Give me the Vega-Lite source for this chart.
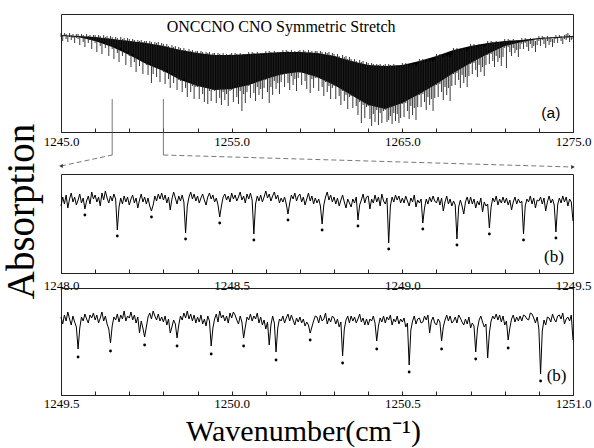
{
"$schema":"https://vega.github.io/schema/vega-lite/v6.json",
"padding":{"left":1,"top":13,"right":2,"bottom":0},
"background":"white",
"config":{"view":{"stroke":"#222","strokeWidth":1},
"axis":{"grid":false,"labelFont":"Liberation Serif","labelFontSize":13,"labelColor":"black","tickColor":"#222","domainColor":"#222","titleFont":"Liberation Serif","titleColor":"black","titleFontWeight":"normal","labelFlush":false,"labelOverlap":false}},
"datasets":{
"topBand":[{"x":1245,"t":97,"b":96},{"x":1246,"t":96,"b":95},{"x":1247,"t":95,"b":91},{"x":1248,"t":93,"b":85},{"x":1249,"t":91,"b":77},{"x":1250,"t":89,"b":68},{"x":1251,"t":86,"b":61},{"x":1252,"t":82,"b":52},{"x":1253,"t":79,"b":46},{"x":1254,"t":77,"b":42},{"x":1255,"t":77,"b":43},{"x":1256,"t":78,"b":47},{"x":1257,"t":79,"b":53},{"x":1258,"t":80,"b":58},{"x":1259,"t":80,"b":60},{"x":1260,"t":79,"b":55},{"x":1261,"t":76,"b":47},{"x":1262,"t":71,"b":37},{"x":1263,"t":67,"b":27},{"x":1264,"t":66,"b":23},{"x":1265,"t":67,"b":29},{"x":1266,"t":71,"b":38},{"x":1267,"t":76,"b":48},{"x":1268,"t":82,"b":59},{"x":1269,"t":86,"b":69},{"x":1270,"t":89,"b":78},{"x":1271,"t":91,"b":86},{"x":1272,"t":92,"b":90},{"x":1273,"t":94,"b":93},{"x":1274,"t":95,"b":94},{"x":1275,"t":96,"b":95}],
"topRules":[
{"x":1245.0,"h":99,"l":95},{"x":1245.1,"h":97,"l":91},{"x":1245.2,"h":99,"l":96},{"x":1245.3,"h":98,"l":93},{"x":1245.4,"h":96,"l":90},{"x":1245.5,"h":99,"l":95},{"x":1245.6,"h":97,"l":92},{"x":1245.7,"h":98,"l":94},{"x":1245.8,"h":96,"l":89},{"x":1245.9,"h":98,"l":94},
{"x":1246.0,"h":98,"l":93},{"x":1246.1,"h":96,"l":87},{"x":1246.2,"h":98,"l":94},{"x":1246.3,"h":97,"l":90},{"x":1246.4,"h":95,"l":85},{"x":1246.5,"h":98,"l":93},{"x":1246.6,"h":96,"l":89},{"x":1246.7,"h":97,"l":92},{"x":1246.8,"h":95,"l":83},{"x":1246.9,"h":97,"l":91},
{"x":1247.0,"h":97,"l":89},{"x":1247.1,"h":95,"l":80},{"x":1247.2,"h":97,"l":91},{"x":1247.3,"h":96,"l":86},{"x":1247.4,"h":94,"l":78},{"x":1247.5,"h":97,"l":90},{"x":1247.6,"h":95,"l":84},{"x":1247.7,"h":96,"l":88},{"x":1247.8,"h":94,"l":76},{"x":1247.9,"h":96,"l":87},
{"x":1248.0,"h":95,"l":83},{"x":1248.1,"h":93,"l":73},{"x":1248.2,"h":95,"l":86},{"x":1248.3,"h":94,"l":79},{"x":1248.4,"h":92,"l":70},{"x":1248.5,"h":95,"l":84},{"x":1248.6,"h":93,"l":76},{"x":1248.7,"h":94,"l":81},{"x":1248.8,"h":92,"l":67},{"x":1248.9,"h":94,"l":80},
{"x":1249.0,"h":93,"l":76},{"x":1249.1,"h":91,"l":65},{"x":1249.2,"h":93,"l":78},{"x":1249.3,"h":92,"l":70},{"x":1249.4,"h":90,"l":60},{"x":1249.5,"h":92,"l":75},{"x":1249.6,"h":91,"l":66},{"x":1249.7,"h":92,"l":72},{"x":1249.8,"h":90,"l":58},{"x":1249.9,"h":91,"l":70},
{"x":1250.0,"h":91,"l":67},{"x":1250.1,"h":89,"l":57},{"x":1250.2,"h":91,"l":69},{"x":1250.3,"h":90,"l":49},{"x":1250.4,"h":87,"l":58},{"x":1250.5,"h":90,"l":66},{"x":1250.6,"h":89,"l":55},{"x":1250.7,"h":90,"l":63},{"x":1250.8,"h":87,"l":50},{"x":1250.9,"h":89,"l":62},
{"x":1251.0,"h":88,"l":60},{"x":1251.1,"h":86,"l":48},{"x":1251.2,"h":88,"l":62},{"x":1251.3,"h":86,"l":53},{"x":1251.4,"h":84,"l":44},{"x":1251.5,"h":87,"l":59},{"x":1251.6,"h":85,"l":49},{"x":1251.7,"h":86,"l":56},{"x":1251.8,"h":83,"l":42},{"x":1251.9,"h":85,"l":52},
{"x":1252.0,"h":84,"l":51},{"x":1252.1,"h":82,"l":40},{"x":1252.2,"h":84,"l":53},{"x":1252.3,"h":82,"l":44},{"x":1252.4,"h":80,"l":35},{"x":1252.5,"h":83,"l":50},{"x":1252.6,"h":81,"l":40},{"x":1252.7,"h":82,"l":46},{"x":1252.8,"h":79,"l":33},{"x":1252.9,"h":81,"l":45},
{"x":1253.0,"h":81,"l":45},{"x":1253.1,"h":79,"l":33},{"x":1253.2,"h":81,"l":46},{"x":1253.3,"h":80,"l":38},{"x":1253.4,"h":78,"l":30},{"x":1253.5,"h":80,"l":44},{"x":1253.6,"h":79,"l":28},{"x":1253.7,"h":80,"l":41},{"x":1253.8,"h":77,"l":31},{"x":1253.9,"h":79,"l":42},
{"x":1254.0,"h":79,"l":41},{"x":1254.1,"h":77,"l":29},{"x":1254.2,"h":79,"l":43},{"x":1254.3,"h":78,"l":34},{"x":1254.4,"h":76,"l":27},{"x":1254.5,"h":79,"l":40},{"x":1254.6,"h":77,"l":32},{"x":1254.7,"h":78,"l":38},{"x":1254.8,"h":76,"l":26},{"x":1254.9,"h":78,"l":41},
{"x":1255.0,"h":79,"l":42},{"x":1255.1,"h":77,"l":30},{"x":1255.2,"h":79,"l":44},{"x":1255.3,"h":78,"l":35},{"x":1255.4,"h":76,"l":28},{"x":1255.5,"h":79,"l":41},{"x":1255.6,"h":77,"l":21},{"x":1255.7,"h":78,"l":38},{"x":1255.8,"h":76,"l":29},{"x":1255.9,"h":78,"l":40},
{"x":1256.0,"h":80,"l":46},{"x":1256.1,"h":78,"l":34},{"x":1256.2,"h":80,"l":48},{"x":1256.3,"h":79,"l":39},{"x":1256.4,"h":77,"l":31},{"x":1256.5,"h":80,"l":45},{"x":1256.6,"h":78,"l":37},{"x":1256.7,"h":79,"l":43},{"x":1256.8,"h":77,"l":33},{"x":1256.9,"h":79,"l":44},
{"x":1257.0,"h":81,"l":52},{"x":1257.1,"h":79,"l":40},{"x":1257.2,"h":81,"l":29},{"x":1257.3,"h":80,"l":45},{"x":1257.4,"h":78,"l":37},{"x":1257.5,"h":81,"l":51},{"x":1257.6,"h":79,"l":43},{"x":1257.7,"h":80,"l":49},{"x":1257.8,"h":78,"l":38},{"x":1257.9,"h":80,"l":50},
{"x":1258.0,"h":82,"l":57},{"x":1258.1,"h":80,"l":45},{"x":1258.2,"h":82,"l":58},{"x":1258.3,"h":81,"l":49},{"x":1258.4,"h":79,"l":42},{"x":1258.5,"h":82,"l":56},{"x":1258.6,"h":80,"l":47},{"x":1258.7,"h":81,"l":53},{"x":1258.8,"h":79,"l":41},{"x":1258.9,"h":81,"l":54},
{"x":1259.0,"h":82,"l":59},{"x":1259.1,"h":80,"l":47},{"x":1259.2,"h":82,"l":60},{"x":1259.3,"h":81,"l":51},{"x":1259.4,"h":79,"l":43},{"x":1259.5,"h":82,"l":57},{"x":1259.6,"h":80,"l":39},{"x":1259.7,"h":81,"l":53},{"x":1259.8,"h":79,"l":44},{"x":1259.9,"h":81,"l":54},
{"x":1260.0,"h":81,"l":54},{"x":1260.1,"h":79,"l":41},{"x":1260.2,"h":81,"l":53},{"x":1260.3,"h":80,"l":45},{"x":1260.4,"h":78,"l":36},{"x":1260.5,"h":80,"l":50},{"x":1260.6,"h":79,"l":40},{"x":1260.7,"h":80,"l":46},{"x":1260.8,"h":77,"l":33},{"x":1260.9,"h":79,"l":44},
{"x":1261.0,"h":78,"l":46},{"x":1261.1,"h":76,"l":33},{"x":1261.2,"h":78,"l":45},{"x":1261.3,"h":76,"l":36},{"x":1261.4,"h":74,"l":27},{"x":1261.5,"h":77,"l":41},{"x":1261.6,"h":75,"l":31},{"x":1261.7,"h":76,"l":37},{"x":1261.8,"h":73,"l":23},{"x":1261.9,"h":75,"l":35},
{"x":1262.0,"h":73,"l":36},{"x":1262.1,"h":71,"l":24},{"x":1262.2,"h":73,"l":35},{"x":1262.3,"h":71,"l":26},{"x":1262.4,"h":69,"l":17},{"x":1262.5,"h":72,"l":30},{"x":1262.6,"h":70,"l":9},{"x":1262.7,"h":71,"l":27},{"x":1262.8,"h":68,"l":14},{"x":1262.9,"h":70,"l":25},
{"x":1263.0,"h":69,"l":26},{"x":1263.1,"h":67,"l":13},{"x":1263.2,"h":69,"l":6},{"x":1263.3,"h":68,"l":18},{"x":1263.4,"h":66,"l":10},{"x":1263.5,"h":68,"l":22},{"x":1263.6,"h":67,"l":7},{"x":1263.7,"h":68,"l":19},{"x":1263.8,"h":66,"l":9},{"x":1263.9,"h":67,"l":21},
{"x":1264.0,"h":68,"l":22},{"x":1264.1,"h":66,"l":10},{"x":1264.2,"h":68,"l":12},{"x":1264.3,"h":67,"l":16},{"x":1264.4,"h":65,"l":8},{"x":1264.5,"h":68,"l":19},{"x":1264.6,"h":66,"l":11},{"x":1264.7,"h":67,"l":18},{"x":1264.8,"h":65,"l":9},{"x":1264.9,"h":67,"l":14},
{"x":1265.0,"h":69,"l":28},{"x":1265.1,"h":67,"l":15},{"x":1265.2,"h":69,"l":29},{"x":1265.3,"h":68,"l":21},{"x":1265.4,"h":66,"l":13},{"x":1265.5,"h":69,"l":26},{"x":1265.6,"h":67,"l":17},{"x":1265.7,"h":68,"l":24},{"x":1265.8,"h":66,"l":12},{"x":1265.9,"h":68,"l":25},
{"x":1266.0,"h":73,"l":37},{"x":1266.1,"h":71,"l":25},{"x":1266.2,"h":73,"l":38},{"x":1266.3,"h":72,"l":30},{"x":1266.4,"h":70,"l":22},{"x":1266.5,"h":73,"l":35},{"x":1266.6,"h":71,"l":27},{"x":1266.7,"h":72,"l":33},{"x":1266.8,"h":70,"l":21},{"x":1266.9,"h":72,"l":34},
{"x":1267.0,"h":78,"l":47},{"x":1267.1,"h":76,"l":35},{"x":1267.2,"h":78,"l":48},{"x":1267.3,"h":77,"l":40},{"x":1267.4,"h":75,"l":32},{"x":1267.5,"h":78,"l":45},{"x":1267.6,"h":76,"l":37},{"x":1267.7,"h":77,"l":44},{"x":1267.8,"h":75,"l":31},{"x":1267.9,"h":77,"l":46},
{"x":1268.0,"h":84,"l":58},{"x":1268.1,"h":82,"l":47},{"x":1268.2,"h":84,"l":59},{"x":1268.3,"h":83,"l":52},{"x":1268.4,"h":81,"l":44},{"x":1268.5,"h":84,"l":57},{"x":1268.6,"h":82,"l":49},{"x":1268.7,"h":83,"l":55},{"x":1268.8,"h":81,"l":45},{"x":1268.9,"h":83,"l":56},
{"x":1269.0,"h":88,"l":68},{"x":1269.1,"h":86,"l":58},{"x":1269.2,"h":88,"l":69},{"x":1269.3,"h":87,"l":62},{"x":1269.4,"h":85,"l":55},{"x":1269.5,"h":88,"l":67},{"x":1269.6,"h":86,"l":60},{"x":1269.7,"h":87,"l":65},{"x":1269.8,"h":85,"l":56},{"x":1269.9,"h":87,"l":67},
{"x":1270.0,"h":91,"l":77},{"x":1270.1,"h":89,"l":68},{"x":1270.2,"h":91,"l":78},{"x":1270.3,"h":90,"l":71},{"x":1270.4,"h":88,"l":65},{"x":1270.5,"h":91,"l":76},{"x":1270.6,"h":89,"l":70},{"x":1270.7,"h":90,"l":74},{"x":1270.8,"h":88,"l":66},{"x":1270.9,"h":90,"l":75},
{"x":1271.0,"h":93,"l":84},{"x":1271.1,"h":91,"l":64},{"x":1271.2,"h":93,"l":85},{"x":1271.3,"h":92,"l":80},{"x":1271.4,"h":90,"l":76},{"x":1271.5,"h":93,"l":84},{"x":1271.6,"h":91,"l":79},{"x":1271.7,"h":92,"l":82},{"x":1271.8,"h":90,"l":75},{"x":1271.9,"h":92,"l":83},
{"x":1272.0,"h":94,"l":88},{"x":1272.1,"h":92,"l":83},{"x":1272.2,"h":94,"l":89},{"x":1272.3,"h":93,"l":85},{"x":1272.4,"h":91,"l":81},{"x":1272.5,"h":94,"l":88},{"x":1272.6,"h":92,"l":84},{"x":1272.7,"h":93,"l":86},{"x":1272.8,"h":91,"l":80},{"x":1272.9,"h":93,"l":87},
{"x":1273.0,"h":96,"l":91},{"x":1273.1,"h":94,"l":86},{"x":1273.2,"h":96,"l":92},{"x":1273.3,"h":95,"l":88},{"x":1273.4,"h":93,"l":84},{"x":1273.5,"h":96,"l":91},{"x":1273.6,"h":94,"l":87},{"x":1273.7,"h":95,"l":90},{"x":1273.8,"h":93,"l":85},{"x":1273.9,"h":95,"l":89},
{"x":1274.0,"h":97,"l":93},{"x":1274.1,"h":95,"l":89},{"x":1274.2,"h":97,"l":94},{"x":1274.3,"h":96,"l":91},{"x":1274.4,"h":94,"l":88},{"x":1274.5,"h":97,"l":93},{"x":1274.6,"h":98,"l":92},{"x":1274.7,"h":99,"l":94},{"x":1274.8,"h":97,"l":90},{"x":1274.9,"h":96,"l":92},
{"x":1275.0,"h":96,"l":93}],
"midLine":[
{"x":1248.000,"y":70},{"x":1248.005,"y":79},{"x":1248.010,"y":72},{"x":1248.015,"y":81},{"x":1248.020,"y":68},{"x":1248.025,"y":77},{"x":1248.030,"y":83},{"x":1248.035,"y":74},{"x":1248.040,"y":79},{"x":1248.045,"y":71},
{"x":1248.050,"y":76},{"x":1248.055,"y":82},{"x":1248.060,"y":73},{"x":1248.065,"y":78},{"x":1248.070,"y":67},{"x":1248.075,"y":75},{"x":1248.080,"y":80},{"x":1248.085,"y":72},{"x":1248.090,"y":84},{"x":1248.095,"y":77},
{"x":1248.100,"y":81},{"x":1248.105,"y":74},{"x":1248.110,"y":79},{"x":1248.115,"y":70},{"x":1248.120,"y":83},{"x":1248.125,"y":76},{"x":1248.130,"y":85},{"x":1248.135,"y":78},{"x":1248.140,"y":73},{"x":1248.145,"y":80},
{"x":1248.150,"y":75},{"x":1248.155,"y":82},{"x":1248.160,"y":77},{"x":1248.165,"y":46},{"x":1248.170,"y":69},{"x":1248.175,"y":78},{"x":1248.180,"y":72},{"x":1248.185,"y":80},{"x":1248.190,"y":74},{"x":1248.195,"y":79},
{"x":1248.200,"y":71},{"x":1248.205,"y":77},{"x":1248.210,"y":81},{"x":1248.215,"y":73},{"x":1248.220,"y":78},{"x":1248.225,"y":68},{"x":1248.230,"y":76},{"x":1248.235,"y":82},{"x":1248.240,"y":74},{"x":1248.245,"y":79},
{"x":1248.250,"y":72},{"x":1248.255,"y":78},{"x":1248.260,"y":70},{"x":1248.265,"y":65},{"x":1248.270,"y":71},{"x":1248.275,"y":80},{"x":1248.280,"y":75},{"x":1248.285,"y":82},{"x":1248.290,"y":77},{"x":1248.295,"y":83},
{"x":1248.300,"y":76},{"x":1248.305,"y":81},{"x":1248.310,"y":73},{"x":1248.315,"y":79},{"x":1248.320,"y":66},{"x":1248.325,"y":77},{"x":1248.330,"y":84},{"x":1248.335,"y":78},{"x":1248.340,"y":72},{"x":1248.345,"y":80},
{"x":1248.350,"y":75},{"x":1248.355,"y":81},{"x":1248.360,"y":74},{"x":1248.365,"y":43},{"x":1248.370,"y":70},{"x":1248.375,"y":79},{"x":1248.380,"y":84},{"x":1248.385,"y":77},{"x":1248.390,"y":82},{"x":1248.395,"y":75},
{"x":1248.400,"y":80},{"x":1248.405,"y":73},{"x":1248.410,"y":78},{"x":1248.415,"y":82},{"x":1248.420,"y":76},{"x":1248.425,"y":71},{"x":1248.430,"y":79},{"x":1248.435,"y":83},{"x":1248.440,"y":77},{"x":1248.445,"y":81},
{"x":1248.450,"y":74},{"x":1248.455,"y":78},{"x":1248.460,"y":71},{"x":1248.465,"y":59},{"x":1248.470,"y":70},{"x":1248.475,"y":79},{"x":1248.480,"y":82},{"x":1248.485,"y":76},{"x":1248.490,"y":80},{"x":1248.495,"y":74},
{"x":1248.500,"y":83},{"x":1248.505,"y":77},{"x":1248.510,"y":81},{"x":1248.515,"y":75},{"x":1248.520,"y":79},{"x":1248.525,"y":84},{"x":1248.530,"y":76},{"x":1248.535,"y":80},{"x":1248.540,"y":73},{"x":1248.545,"y":82},
{"x":1248.550,"y":77},{"x":1248.555,"y":83},{"x":1248.560,"y":76},{"x":1248.565,"y":42},{"x":1248.570,"y":72},{"x":1248.575,"y":80},{"x":1248.580,"y":75},{"x":1248.585,"y":81},{"x":1248.590,"y":74},{"x":1248.595,"y":79},
{"x":1248.600,"y":85},{"x":1248.605,"y":78},{"x":1248.610,"y":82},{"x":1248.615,"y":75},{"x":1248.620,"y":80},{"x":1248.625,"y":84},{"x":1248.630,"y":77},{"x":1248.635,"y":81},{"x":1248.640,"y":73},{"x":1248.645,"y":78},
{"x":1248.650,"y":74},{"x":1248.655,"y":79},{"x":1248.660,"y":72},{"x":1248.665,"y":62},{"x":1248.670,"y":73},{"x":1248.675,"y":81},{"x":1248.680,"y":77},{"x":1248.685,"y":83},{"x":1248.690,"y":75},{"x":1248.695,"y":80},
{"x":1248.700,"y":82},{"x":1248.705,"y":74},{"x":1248.710,"y":79},{"x":1248.715,"y":71},{"x":1248.720,"y":77},{"x":1248.725,"y":83},{"x":1248.730,"y":75},{"x":1248.735,"y":80},{"x":1248.740,"y":72},{"x":1248.745,"y":78},
{"x":1248.750,"y":73},{"x":1248.755,"y":77},{"x":1248.760,"y":70},{"x":1248.765,"y":52},{"x":1248.770,"y":71},{"x":1248.775,"y":79},{"x":1248.780,"y":84},{"x":1248.785,"y":76},{"x":1248.790,"y":81},{"x":1248.795,"y":74},
{"x":1248.800,"y":79},{"x":1248.805,"y":72},{"x":1248.810,"y":78},{"x":1248.815,"y":70},{"x":1248.820,"y":76},{"x":1248.825,"y":81},{"x":1248.830,"y":74},{"x":1248.835,"y":68},{"x":1248.840,"y":77},{"x":1248.845,"y":73},
{"x":1248.850,"y":69},{"x":1248.855,"y":77},{"x":1248.860,"y":73},{"x":1248.865,"y":79},{"x":1248.870,"y":56},{"x":1248.875,"y":71},{"x":1248.880,"y":76},{"x":1248.885,"y":82},{"x":1248.890,"y":73},{"x":1248.895,"y":79},
{"x":1248.900,"y":80},{"x":1248.905,"y":67},{"x":1248.910,"y":77},{"x":1248.915,"y":73},{"x":1248.920,"y":81},{"x":1248.925,"y":74},{"x":1248.930,"y":79},{"x":1248.935,"y":70},{"x":1248.940,"y":82},{"x":1248.945,"y":75},
{"x":1248.950,"y":72},{"x":1248.955,"y":78},{"x":1248.960,"y":33},{"x":1248.965,"y":70},{"x":1248.970,"y":79},{"x":1248.975,"y":74},{"x":1248.980,"y":81},{"x":1248.985,"y":76},{"x":1248.990,"y":80},{"x":1248.995,"y":73},
{"x":1249.000,"y":78},{"x":1249.005,"y":73},{"x":1249.010,"y":80},{"x":1249.015,"y":75},{"x":1249.020,"y":70},{"x":1249.025,"y":78},{"x":1249.030,"y":74},{"x":1249.035,"y":81},{"x":1249.040,"y":69},{"x":1249.045,"y":76},
{"x":1249.050,"y":73},{"x":1249.055,"y":77},{"x":1249.060,"y":53},{"x":1249.065,"y":68},{"x":1249.070,"y":77},{"x":1249.075,"y":72},{"x":1249.080,"y":79},{"x":1249.085,"y":74},{"x":1249.090,"y":80},{"x":1249.095,"y":75},
{"x":1249.100,"y":73},{"x":1249.105,"y":79},{"x":1249.110,"y":71},{"x":1249.115,"y":78},{"x":1249.120,"y":65},{"x":1249.125,"y":74},{"x":1249.130,"y":80},{"x":1249.135,"y":72},{"x":1249.140,"y":77},{"x":1249.145,"y":70},
{"x":1249.150,"y":75},{"x":1249.155,"y":71},{"x":1249.160,"y":37},{"x":1249.165,"y":69},{"x":1249.170,"y":76},{"x":1249.175,"y":70},{"x":1249.180,"y":62},{"x":1249.185,"y":74},{"x":1249.190,"y":79},{"x":1249.195,"y":72},
{"x":1249.200,"y":79},{"x":1249.205,"y":72},{"x":1249.210,"y":77},{"x":1249.215,"y":68},{"x":1249.220,"y":75},{"x":1249.225,"y":71},{"x":1249.230,"y":78},{"x":1249.235,"y":64},{"x":1249.240,"y":74},{"x":1249.245,"y":70},
{"x":1249.250,"y":72},{"x":1249.255,"y":48},{"x":1249.260,"y":69},{"x":1249.265,"y":78},{"x":1249.270,"y":74},{"x":1249.275,"y":80},{"x":1249.280,"y":71},{"x":1249.285,"y":77},{"x":1249.290,"y":73},{"x":1249.295,"y":79},
{"x":1249.300,"y":73},{"x":1249.305,"y":78},{"x":1249.310,"y":71},{"x":1249.315,"y":76},{"x":1249.320,"y":66},{"x":1249.325,"y":74},{"x":1249.330,"y":79},{"x":1249.335,"y":72},{"x":1249.340,"y":77},{"x":1249.345,"y":73},
{"x":1249.350,"y":75},{"x":1249.355,"y":42},{"x":1249.360,"y":70},{"x":1249.365,"y":77},{"x":1249.370,"y":74},{"x":1249.375,"y":80},{"x":1249.380,"y":72},{"x":1249.385,"y":78},{"x":1249.390,"y":68},{"x":1249.395,"y":76},
{"x":1249.400,"y":75},{"x":1249.405,"y":79},{"x":1249.410,"y":72},{"x":1249.415,"y":78},{"x":1249.420,"y":65},{"x":1249.425,"y":74},{"x":1249.430,"y":80},{"x":1249.435,"y":73},{"x":1249.440,"y":77},{"x":1249.445,"y":71},
{"x":1249.450,"y":44},{"x":1249.455,"y":71},{"x":1249.460,"y":78},{"x":1249.465,"y":73},{"x":1249.470,"y":80},{"x":1249.475,"y":74},{"x":1249.480,"y":79},{"x":1249.485,"y":70},{"x":1249.490,"y":77},{"x":1249.495,"y":74},
{"x":1249.500,"y":55}],
"midDots":[{"x":1248.070,"y":61},{"x":1248.165,"y":40},{"x":1248.265,"y":59},{"x":1248.365,"y":37},{"x":1248.465,"y":53},{"x":1248.565,"y":36},{"x":1248.665,"y":56},{"x":1248.765,"y":46},{"x":1248.870,"y":50},{"x":1248.960,"y":27},{"x":1249.060,"y":47},{"x":1249.160,"y":31},{"x":1249.255,"y":42},{"x":1249.355,"y":36},{"x":1249.450,"y":38}],
"botLine":[
{"x":1249.500,"y":78},{"x":1249.505,"y":71},{"x":1249.510,"y":80},{"x":1249.515,"y":74},{"x":1249.520,"y":83},{"x":1249.525,"y":76},{"x":1249.530,"y":70},{"x":1249.535,"y":79},{"x":1249.540,"y":73},{"x":1249.545,"y":68},
{"x":1249.550,"y":46},{"x":1249.555,"y":67},{"x":1249.560,"y":78},{"x":1249.565,"y":74},{"x":1249.570,"y":81},{"x":1249.575,"y":76},{"x":1249.580,"y":72},{"x":1249.585,"y":80},{"x":1249.590,"y":77},{"x":1249.595,"y":82},
{"x":1249.600,"y":75},{"x":1249.605,"y":80},{"x":1249.610,"y":72},{"x":1249.615,"y":77},{"x":1249.620,"y":83},{"x":1249.625,"y":74},{"x":1249.630,"y":79},{"x":1249.635,"y":71},{"x":1249.640,"y":66},{"x":1249.645,"y":52},
{"x":1249.650,"y":69},{"x":1249.655,"y":78},{"x":1249.660,"y":75},{"x":1249.665,"y":81},{"x":1249.670,"y":73},{"x":1249.675,"y":80},{"x":1249.680,"y":76},{"x":1249.685,"y":84},{"x":1249.690,"y":74},{"x":1249.695,"y":79},
{"x":1249.700,"y":77},{"x":1249.705,"y":83},{"x":1249.710,"y":75},{"x":1249.715,"y":80},{"x":1249.720,"y":72},{"x":1249.725,"y":78},{"x":1249.730,"y":62},{"x":1249.735,"y":74},{"x":1249.740,"y":67},{"x":1249.745,"y":58},
{"x":1249.750,"y":68},{"x":1249.755,"y":78},{"x":1249.760,"y":82},{"x":1249.765,"y":76},{"x":1249.770,"y":84},{"x":1249.775,"y":79},{"x":1249.780,"y":75},{"x":1249.785,"y":81},{"x":1249.790,"y":74},{"x":1249.795,"y":78},
{"x":1249.800,"y":73},{"x":1249.805,"y":79},{"x":1249.810,"y":70},{"x":1249.815,"y":76},{"x":1249.820,"y":62},{"x":1249.825,"y":68},{"x":1249.830,"y":75},{"x":1249.835,"y":71},{"x":1249.840,"y":57},{"x":1249.845,"y":70},
{"x":1249.850,"y":79},{"x":1249.855,"y":75},{"x":1249.860,"y":82},{"x":1249.865,"y":77},{"x":1249.870,"y":84},{"x":1249.875,"y":76},{"x":1249.880,"y":81},{"x":1249.885,"y":74},{"x":1249.890,"y":80},{"x":1249.895,"y":72},
{"x":1249.900,"y":78},{"x":1249.905,"y":73},{"x":1249.910,"y":80},{"x":1249.915,"y":71},{"x":1249.920,"y":76},{"x":1249.925,"y":69},{"x":1249.930,"y":79},{"x":1249.935,"y":74},{"x":1249.940,"y":49},{"x":1249.945,"y":67},
{"x":1249.950,"y":76},{"x":1249.955,"y":81},{"x":1249.960,"y":73},{"x":1249.965,"y":84},{"x":1249.970,"y":77},{"x":1249.975,"y":80},{"x":1249.980,"y":74},{"x":1249.985,"y":79},{"x":1249.990,"y":72},{"x":1249.995,"y":82},
{"x":1250.000,"y":77},{"x":1250.005,"y":83},{"x":1250.010,"y":80},{"x":1250.015,"y":75},{"x":1250.020,"y":71},{"x":1250.025,"y":79},{"x":1250.030,"y":73},{"x":1250.035,"y":57},{"x":1250.040,"y":68},{"x":1250.045,"y":78},
{"x":1250.050,"y":75},{"x":1250.055,"y":81},{"x":1250.060,"y":74},{"x":1250.065,"y":79},{"x":1250.070,"y":76},{"x":1250.075,"y":82},{"x":1250.080,"y":72},{"x":1250.085,"y":78},{"x":1250.090,"y":70},{"x":1250.095,"y":75},
{"x":1250.100,"y":66},{"x":1250.105,"y":73},{"x":1250.110,"y":50},{"x":1250.115,"y":70},{"x":1250.120,"y":79},{"x":1250.125,"y":72},{"x":1250.130,"y":43},{"x":1250.135,"y":67},{"x":1250.140,"y":76},{"x":1250.145,"y":74},
{"x":1250.150,"y":79},{"x":1250.155,"y":72},{"x":1250.160,"y":77},{"x":1250.165,"y":81},{"x":1250.170,"y":74},{"x":1250.175,"y":80},{"x":1250.180,"y":75},{"x":1250.185,"y":70},{"x":1250.190,"y":77},{"x":1250.195,"y":73},
{"x":1250.200,"y":78},{"x":1250.205,"y":72},{"x":1250.210,"y":76},{"x":1250.215,"y":69},{"x":1250.220,"y":73},{"x":1250.225,"y":70},{"x":1250.230,"y":62},{"x":1250.235,"y":68},{"x":1250.240,"y":74},{"x":1250.245,"y":79},
{"x":1250.250,"y":78},{"x":1250.255,"y":72},{"x":1250.260,"y":80},{"x":1250.265,"y":74},{"x":1250.270,"y":76},{"x":1250.275,"y":82},{"x":1250.280,"y":71},{"x":1250.285,"y":77},{"x":1250.290,"y":73},{"x":1250.295,"y":79},
{"x":1250.300,"y":77},{"x":1250.305,"y":71},{"x":1250.310,"y":76},{"x":1250.315,"y":68},{"x":1250.320,"y":73},{"x":1250.325,"y":39},{"x":1250.330,"y":66},{"x":1250.335,"y":75},{"x":1250.340,"y":79},{"x":1250.345,"y":72},
{"x":1250.350,"y":79},{"x":1250.355,"y":74},{"x":1250.360,"y":78},{"x":1250.365,"y":72},{"x":1250.370,"y":76},{"x":1250.375,"y":81},{"x":1250.380,"y":73},{"x":1250.385,"y":77},{"x":1250.390,"y":70},{"x":1250.395,"y":76},
{"x":1250.400,"y":70},{"x":1250.405,"y":76},{"x":1250.410,"y":74},{"x":1250.415,"y":79},{"x":1250.420,"y":72},{"x":1250.425,"y":54},{"x":1250.430,"y":69},{"x":1250.435,"y":77},{"x":1250.440,"y":73},{"x":1250.445,"y":79},
{"x":1250.450,"y":72},{"x":1250.455,"y":78},{"x":1250.460,"y":75},{"x":1250.465,"y":80},{"x":1250.470,"y":70},{"x":1250.475,"y":76},{"x":1250.480,"y":73},{"x":1250.485,"y":79},{"x":1250.490,"y":71},{"x":1250.495,"y":76},
{"x":1250.500,"y":73},{"x":1250.505,"y":77},{"x":1250.510,"y":68},{"x":1250.515,"y":72},{"x":1250.520,"y":30},{"x":1250.525,"y":65},{"x":1250.530,"y":74},{"x":1250.535,"y":79},{"x":1250.540,"y":71},{"x":1250.545,"y":76},
{"x":1250.550,"y":77},{"x":1250.555,"y":72},{"x":1250.560,"y":73},{"x":1250.565,"y":79},{"x":1250.570,"y":75},{"x":1250.575,"y":80},{"x":1250.580,"y":62},{"x":1250.585,"y":74},{"x":1250.590,"y":78},{"x":1250.595,"y":72},
{"x":1250.600,"y":70},{"x":1250.605,"y":76},{"x":1250.610,"y":73},{"x":1250.615,"y":54},{"x":1250.620,"y":68},{"x":1250.625,"y":75},{"x":1250.630,"y":80},{"x":1250.635,"y":74},{"x":1250.640,"y":79},{"x":1250.645,"y":72},
{"x":1250.650,"y":74},{"x":1250.655,"y":78},{"x":1250.660,"y":72},{"x":1250.665,"y":80},{"x":1250.670,"y":77},{"x":1250.675,"y":73},{"x":1250.680,"y":70},{"x":1250.685,"y":76},{"x":1250.690,"y":71},{"x":1250.695,"y":78},
{"x":1250.700,"y":67},{"x":1250.705,"y":72},{"x":1250.710,"y":69},{"x":1250.715,"y":43},{"x":1250.720,"y":66},{"x":1250.725,"y":75},{"x":1250.730,"y":79},{"x":1250.735,"y":73},{"x":1250.740,"y":68},{"x":1250.745,"y":71},
{"x":1250.750,"y":37},{"x":1250.755,"y":62},{"x":1250.760,"y":74},{"x":1250.765,"y":79},{"x":1250.770,"y":76},{"x":1250.775,"y":81},{"x":1250.780,"y":75},{"x":1250.785,"y":80},{"x":1250.790,"y":73},{"x":1250.795,"y":79},
{"x":1250.800,"y":70},{"x":1250.805,"y":74},{"x":1250.810,"y":55},{"x":1250.815,"y":67},{"x":1250.820,"y":76},{"x":1250.825,"y":80},{"x":1250.830,"y":73},{"x":1250.835,"y":78},{"x":1250.840,"y":74},{"x":1250.845,"y":79},
{"x":1250.850,"y":74},{"x":1250.855,"y":80},{"x":1250.860,"y":79},{"x":1250.865,"y":76},{"x":1250.870,"y":75},{"x":1250.875,"y":82},{"x":1250.880,"y":81},{"x":1250.885,"y":77},{"x":1250.890,"y":72},{"x":1250.895,"y":78},
{"x":1250.900,"y":66},{"x":1250.905,"y":21},{"x":1250.910,"y":64},{"x":1250.915,"y":75},{"x":1250.920,"y":70},{"x":1250.925,"y":78},{"x":1250.930,"y":77},{"x":1250.935,"y":73},{"x":1250.940,"y":81},{"x":1250.945,"y":76},
{"x":1250.950,"y":73},{"x":1250.955,"y":79},{"x":1250.960,"y":80},{"x":1250.965,"y":76},{"x":1250.970,"y":82},{"x":1250.975,"y":71},{"x":1250.980,"y":76},{"x":1250.985,"y":78},{"x":1250.990,"y":74},{"x":1250.995,"y":80},
{"x":1251.000,"y":55}],
"botDots":[{"x":1249.550,"y":38},{"x":1249.645,"y":44},{"x":1249.745,"y":50},{"x":1249.840,"y":49},{"x":1249.940,"y":41},{"x":1250.035,"y":49},{"x":1250.130,"y":35},{"x":1250.230,"y":55},{"x":1250.325,"y":32},{"x":1250.425,"y":46},{"x":1250.520,"y":23},{"x":1250.615,"y":46},{"x":1250.715,"y":36},{"x":1250.810,"y":47},{"x":1250.905,"y":14}]
},
"bounds":"flush",
"spacing":42,
"vconcat":[
{"width":512,"height":118,
"resolve":{"axis":{"x":"independent"}},
"layer":[
{"data":{"name":"topBand"},"mark":{"type":"area","color":"black"},
"encoding":{"x":{"field":"x","type":"quantitative","scale":{"domain":[1245,1275],"nice":false,"zero":false},
"axis":{"orient":"bottom","title":null,"labels":false,"values":[1245,1247,1249,1251,1253,1255,1257,1259,1261,1263,1265,1267,1269,1271,1273,1275],"tickSize":-4}},
"y":{"field":"t","type":"quantitative","scale":{"domain":[0,118],"nice":false,"zero":false},"axis":null},"y2":{"field":"b"}}},
{"data":{"name":"topRules"},"mark":{"type":"rule","color":"#222","strokeWidth":0.9},
"encoding":{"x":{"field":"x","type":"quantitative","axis":{"orient":"bottom","title":null,"values":[1245,1255,1265,1275],"format":".1f","ticks":false,"domain":false,"labelPadding":3}},"y":{"field":"h","type":"quantitative","axis":null},"y2":{"field":"l"}}},
{"data":{"values":[{"x":1248,"y":33,"y2":-23},{"x":1251,"y":33,"y2":-23}]},"mark":{"type":"rule","color":"#555","strokeWidth":0.8},
"encoding":{"x":{"field":"x","type":"quantitative","axis":null},"y":{"field":"y","type":"quantitative","axis":null},"y2":{"field":"y2"}}},
{"data":{"values":[{"s":"a","x":1248,"y":-23},{"s":"a","x":1245,"y":-34},{"s":"b","x":1251,"y":-23},{"s":"b","x":1275,"y":-35}]},"mark":{"type":"line","color":"#555","strokeWidth":0.8,"strokeDash":[5,3]},
"encoding":{"x":{"field":"x","type":"quantitative","axis":null},"y":{"field":"y","type":"quantitative","axis":null},"detail":{"field":"s"}}},
{"data":{"values":[{"s":"a","x":1245,"y":-34},{"s":"b","x":1275,"y":-35}]},"mark":{"type":"point","filled":true,"color":"#333","size":18,"opacity":1},
"encoding":{"x":{"field":"x","type":"quantitative","axis":null},"y":{"field":"y","type":"quantitative","axis":null},"shape":{"field":"s","type":"nominal","scale":{"domain":["a","b"],"range":["triangle-left","triangle-right"]},"legend":null}}},
{"data":{"values":[{"x":1257.9,"y":105,"t":"ONCCNO CNO Symmetric Stretch"}]},"mark":{"type":"text","font":"Liberation Serif","fontSize":16,"color":"black"},
"encoding":{"x":{"field":"x","type":"quantitative","axis":null},"y":{"field":"y","type":"quantitative","axis":null},"text":{"field":"t"}}},
{"data":{"values":[{"x":1273.7,"y":19,"t":"(a)"}]},"mark":{"type":"text","font":"Liberation Sans","fontSize":15.5,"color":"black"},
"encoding":{"x":{"field":"x","type":"quantitative","axis":null},"y":{"field":"y","type":"quantitative","axis":null},"text":{"field":"t"}}}
]},
{"bounds":"flush","spacing":15,
"vconcat":[
{"width":512,"height":99,
"resolve":{"axis":{"x":"independent"}},
"layer":[
{"data":{"name":"midLine"},"mark":{"type":"line","color":"black","strokeWidth":1},
"encoding":{"x":{"field":"x","type":"quantitative","scale":{"domain":[1248,1249.5],"nice":false,"zero":false},
"axis":{"orient":"bottom","title":null,"labels":false,"values":[1248,1248.1,1248.2,1248.3,1248.4,1248.5,1248.6,1248.7,1248.8,1248.9,1249,1249.1,1249.2,1249.3,1249.4,1249.5],"tickSize":-4}},
"y":{"field":"y","type":"quantitative","scale":{"domain":[3,102],"nice":false,"zero":false},
"axis":{"title":"Absorption","labels":false,"ticks":false,"domain":false,"titleFontSize":39,"titleX":-40,"titleY":37,"titleAngle":-90,"titleAlign":"center","titleBaseline":"middle"}}}},
{"data":{"name":"midDots"},"mark":{"type":"point","filled":true,"color":"black","size":8,"opacity":1},
"encoding":{"x":{"field":"x","type":"quantitative","axis":{"orient":"bottom","title":null,"values":[1248,1248.5,1249,1249.5],"format":".1f","ticks":false,"domain":false,"labelPadding":6}},"y":{"field":"y","type":"quantitative"}}},
{"data":{"values":[{"x":1249.444,"y":19.5,"t":"(b)"}]},"mark":{"type":"text","font":"Liberation Serif","fontSize":17,"color":"black"},
"encoding":{"x":{"field":"x","type":"quantitative","axis":null},"y":{"field":"y","type":"quantitative"},"text":{"field":"t"}}}
]},
{"width":512,"height":107,
"resolve":{"axis":{"x":"independent"}},
"layer":[
{"data":{"name":"botLine"},"mark":{"type":"line","color":"black","strokeWidth":1},
"encoding":{"x":{"field":"x","type":"quantitative","scale":{"domain":[1249.5,1251],"nice":false,"zero":false},
"axis":{"orient":"bottom","title":null,"labels":false,"values":[1249.5,1249.6,1249.7,1249.8,1249.9,1250,1250.1,1250.2,1250.3,1250.4,1250.5,1250.6,1250.7,1250.8,1250.9,1251],"tickSize":-4}},
"y":{"field":"y","type":"quantitative","scale":{"domain":[0,107],"nice":false,"zero":false},"axis":null}}},
{"data":{"name":"botDots"},"mark":{"type":"point","filled":true,"color":"black","size":8,"opacity":1},
"encoding":{"x":{"field":"x","type":"quantitative","axis":{"orient":"bottom","title":"Wavenumber(cm⁻¹)","titleFontSize":30,"titleX":242,"titleY":45,"titleAlign":"center","titleBaseline":"alphabetic","values":[1249.5,1250,1250.5,1251],"format":".1f","ticks":false,"domain":false,"labelPadding":2}},"y":{"field":"y","type":"quantitative","axis":null}}},
{"data":{"values":[{"x":1250.952,"y":19,"t":"(b)"}]},"mark":{"type":"text","font":"Liberation Serif","fontSize":17,"color":"black"},
"encoding":{"x":{"field":"x","type":"quantitative","axis":null},"y":{"field":"y","type":"quantitative","axis":null},"text":{"field":"t"}}}
]}
]}
]
}
